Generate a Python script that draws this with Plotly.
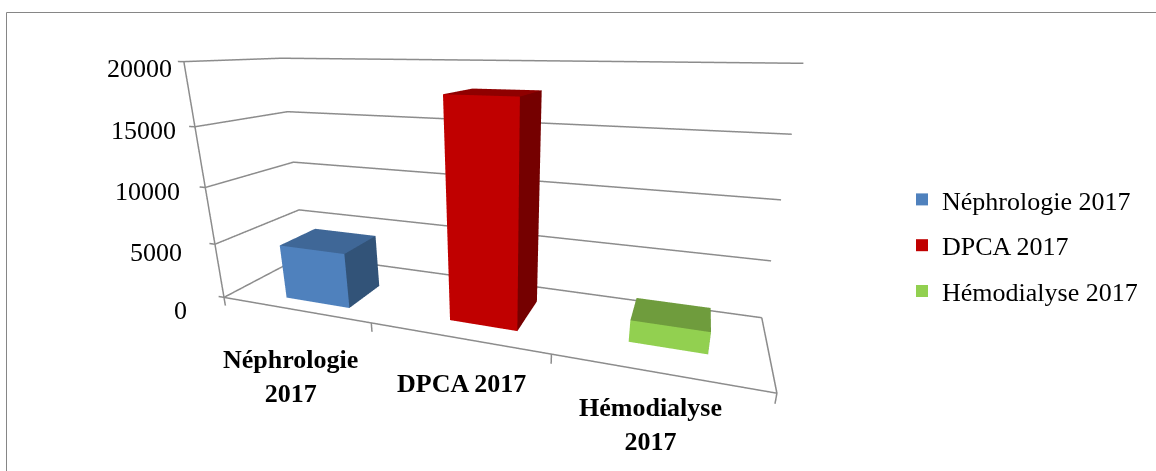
import plotly.graph_objects as go

categories = ["Néphrologie 2017", "DPCA 2017", "Hémodialyse 2017"]
values = [4900, 17900, 1800]
z_ticks = [0, 5000, 10000, 15000, 20000]
z_tick_labels = ["0", "5000", "10000", "15000", "20000"]
cat_labels = ["Néphrologie<br>2017", "DPCA 2017", "Hémodialyse<br>2017"]

colors_front = ["#4F81BD", "#C00000", "#92D050"]
colors_top = ["#3F6797", "#8F0000", "#6F9C3D"]
colors_side = ["#325378", "#750000", "#64903A"]

bar_x = [(0.3534, 0.7855), (1.3889, 1.7737), (2.3398, 2.7196)]
bar_y = [(0.1582, 0.5959), (0.2243, 0.7327), (0.325, 0.6945)]

W, H = 1156, 471
RANGE = [3.0, 1.0, 20000.0]          # extent of the chart box on x, y, z
PAD_LO = [0.06, 0.03, 1000.0]        # room for tick marks below the box
PAD_HI = [0.03, 0.03, 300.0]         # room so edge lines are not clipped
a = [2.2371, 0.5622, 1.0]
eye = [0.7875, -2.0572, 0.567]
center = [0.2411, -0.471, 0.0]
up = [0.0071, -0.0155, 1.0]
shift = [a[i] * (PAD_LO[i] - PAD_HI[i]) / (2 * RANGE[i]) for i in range(3)]
aspect = [a[i] * (RANGE[i] + PAD_LO[i] + PAD_HI[i]) / RANGE[i] for i in range(3)]
LINE = "#8C8C8C"
FONT = "Liberation Serif"
XR, ZR = RANGE[0], RANGE[2]

fig = go.Figure()

lx, ly, lz = [], [], []
def seg(*pts):
    for p in pts:
        lx.append(p[0]); ly.append(p[1]); lz.append(p[2])
    lx.append(None); ly.append(None); lz.append(None)
for t in z_ticks:
    seg((-0.04, 0, t), (0, 0, t), (0, 1, t), (XR, 1, t))
seg((0, 0, 0), (0, 0, ZR))
seg((0, 0, 0), (XR, 0, 0), (XR, 1, 0))
for i in range(4):
    seg((i, 0, 0), (i, 0, -800))
fig.add_trace(go.Scatter3d(x=lx, y=ly, z=lz, mode="lines", line=dict(color=LINE, width=3),
                           showlegend=False, hoverinfo="skip"))

for i, v in enumerate(values):
    x0, x1 = bar_x[i]
    y0, y1 = bar_y[i]
    vx = [x0, x1, x1, x0, x0, x1, x1, x0]
    vy = [y0, y0, y1, y1, y0, y0, y1, y1]
    vz = [0, 0, 0, 0, v, v, v, v]
    fi = [0, 0, 4, 4, 1, 1]
    fj = [1, 5, 5, 6, 2, 6]
    fk = [5, 4, 6, 7, 6, 5]
    fc = [colors_front[i]] * 2 + [colors_top[i]] * 2 + [colors_side[i]] * 2
    fig.add_trace(go.Mesh3d(x=vx, y=vy, z=vz, i=fi, j=fj, k=fk, facecolor=fc, flatshading=True,
                            lighting=dict(ambient=1, diffuse=0, specular=0, fresnel=0, roughness=1),
                            showlegend=False, name=categories[i], hovertext=str(v)))

for i, c in enumerate(categories):
    fig.add_trace(go.Scatter3d(x=[None], y=[None], z=[None], mode="markers", name=c, legendgroup=c,
                               marker=dict(color=colors_front[i], symbol="square", size=14)))

ann = []
right_edges = [189, 184, 182, 178, 174]
centers_y = [310, 252, 191, 131, 69]
for lab, r, cy in zip(z_tick_labels, right_edges, centers_y):
    ann.append(dict(text=lab, x=r / W, y=1 - cy / H, xref="paper", yref="paper", xanchor="right",
                    yanchor="middle", showarrow=False, font=dict(family=FONT, size=26, color="#000000")))
cat_xy = [(290, 376), (461, 383), (650, 424)]
for lab, (cx, cy) in zip(cat_labels, cat_xy):
    ann.append(dict(text="<b>%s</b>" % lab, x=cx / W, y=1 - cy / H, xref="paper", yref="paper", xanchor="center",
                    yanchor="middle", showarrow=False, align="center",
                    font=dict(family=FONT, size=26, color="#000000")))

noax = dict(visible=False, showgrid=False, zeroline=False, showspikes=False, autorange=False)
fig.update_layout(
    width=W, height=H, margin=dict(l=0, r=0, t=0, b=0), paper_bgcolor="white",
    scene=dict(domain=dict(x=[0, 1000 / W], y=[0, 1]),
               xaxis=dict(noax, range=[-PAD_LO[0], RANGE[0] + PAD_HI[0]]),
               yaxis=dict(noax, range=[-PAD_LO[1], RANGE[1] + PAD_HI[1]]),
               zaxis=dict(noax, range=[-PAD_LO[2], RANGE[2] + PAD_HI[2]]),
               aspectmode="manual", aspectratio=dict(x=aspect[0], y=aspect[1], z=aspect[2]),
               camera=dict(eye=dict(x=eye[0] + shift[0], y=eye[1] + shift[1], z=eye[2] + shift[2]),
                           center=dict(x=center[0] + shift[0], y=center[1] + shift[1], z=center[2] + shift[2]),
                           up=dict(x=up[0], y=up[1], z=up[2]))),
    legend=dict(x=902 / W, y=1 - 176 / H, xanchor="left", yanchor="top", tracegroupgap=9,
                font=dict(family=FONT, size=26, color="#000000"), itemsizing="constant", bgcolor="rgba(0,0,0,0)"),
    annotations=ann,
    shapes=[dict(type="line", xref="paper", yref="paper", x0=6.5 / W, x1=1, y0=1 - 12.5 / H, y1=1 - 12.5 / H,
                 line=dict(color="#868686", width=1)),
            dict(type="line", xref="paper", yref="paper", x0=6.5 / W, x1=6.5 / W, y0=1 - 12.5 / H, y1=0,
                 line=dict(color="#868686", width=1))],
)
fig.write_html("out.html", config=dict(displayModeBar=False),
               post_script="document.body.style.margin='0';document.body.style.overflow='hidden';")
